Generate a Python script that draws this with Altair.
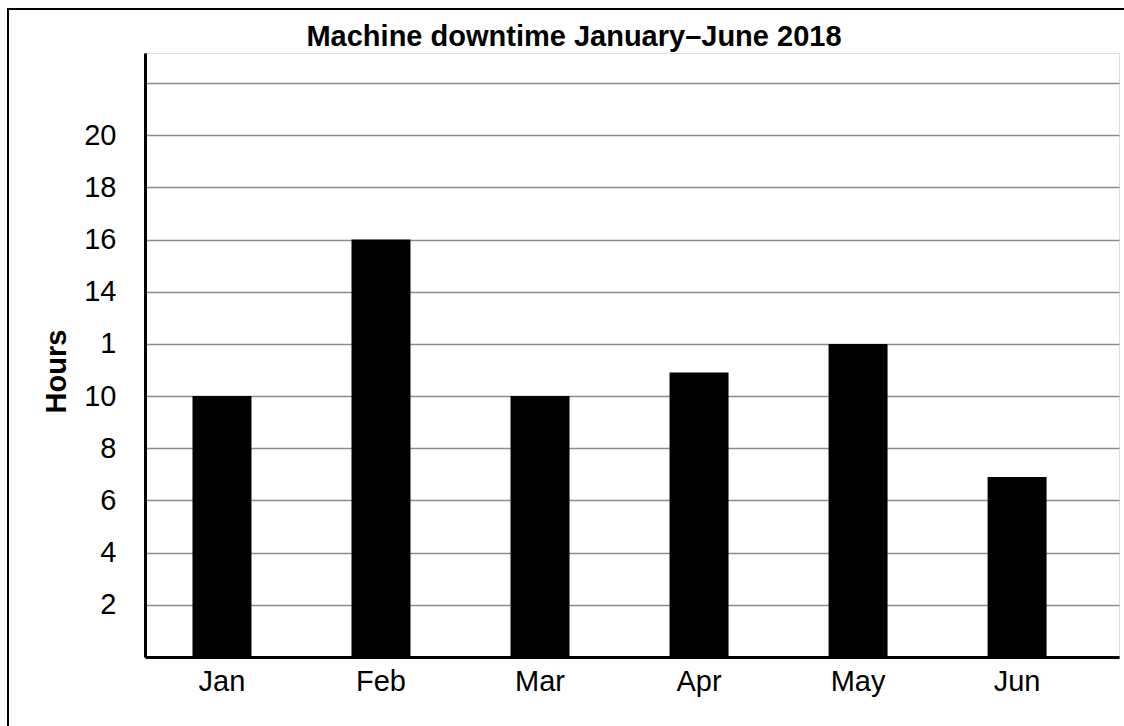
import altair as alt
import pandas as pd

months = ["Jan", "Feb", "Mar", "Apr", "May", "Jun"]
hours = [10, 16, 10, 10.9, 12, 6.9]
y_tick_values = [0, 2, 4, 6, 8, 10, 12, 14, 16, 18, 20, 22]
y_tick_labels = ["", "2", "4", "6", "8", "10", "1", "14", "16", "18", "20", ""]
title_text = "Machine downtime January\u2013June 2018"
y_title = "Hours"

df = pd.DataFrame({"month": months, "hours": hours})

label_expr = " : ".join(
    f"datum.value == {v} ? '{l}'" for v, l in zip(y_tick_values, y_tick_labels)
) + " : datum.label"

FONT = "Liberation Sans"

bars = alt.Chart(df).mark_bar(color="black").encode(
    x=alt.X("month:N", sort=months,
            scale=alt.Scale(paddingInner=0.629, paddingOuter=0.377, align=0.396),
            axis=alt.Axis(title=None, labelAngle=0, labelFontSize=29, labelPadding=10,
                          ticks=False, domainColor="black", domainWidth=3,
                          labelColor="black", labelFont=FONT)),
    y=alt.Y("hours:Q",
            scale=alt.Scale(domain=[0, 23.15], nice=False),
            axis=alt.Axis(values=y_tick_values, labelExpr=label_expr, title=y_title,
                          titleFontSize=29, titleFont=FONT, titleFontWeight="bold",
                          titleColor="black", titleX=-74, titleY=318, titleAngle=270,
                          labelFontSize=29, labelFont=FONT, labelColor="black",
                          labelPadding=29, ticks=False, domainColor="black", domainWidth=3,
                          grid=True, gridColor="#8c8c8c", gridWidth=1.6)),
)

frame = alt.Chart(df).mark_rect(fill=None, stroke="black", strokeWidth=2).encode(
    x=alt.value(-137), y=alt.value(-44), x2=alt.value(1300), y2=alt.value(900)
)

chart = alt.layer(bars, frame).properties(
    width=974, height=604,
    title=alt.TitleParams(title_text, fontSize=29, font=FONT, fontWeight="bold",
                          color="black", anchor="middle", frame="group", dx=-58,
                          baseline="alphabetic", offset=-67),
    autosize=alt.AutoSizeParams(type="none"),
    padding={"left": 145, "top": 53, "right": 5, "bottom": 69},
).configure_view(stroke=None).configure(background="white")

chart.save("out.html", embed_options={"renderer": "svg", "actions": False})
